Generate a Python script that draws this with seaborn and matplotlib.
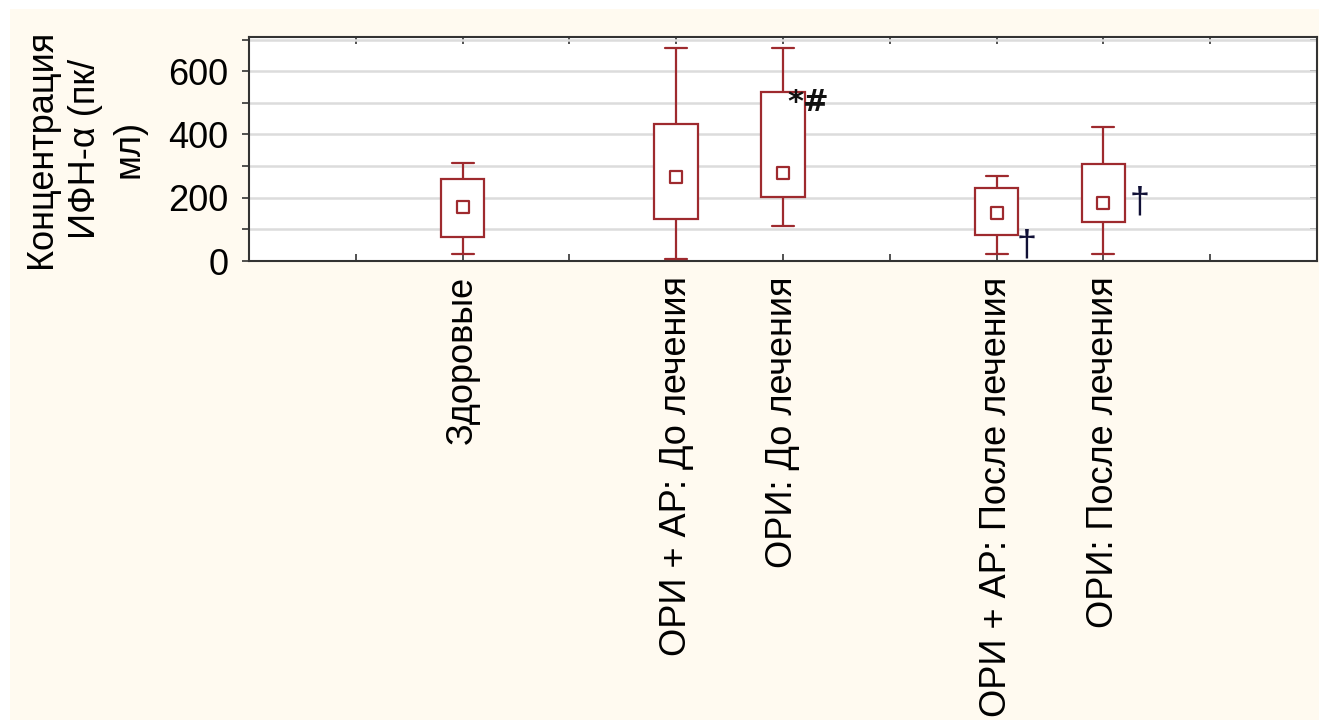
import numpy as np
import pandas as pd
import matplotlib
matplotlib.use("Agg")
import matplotlib.pyplot as plt
from matplotlib.patches import Rectangle
from matplotlib.ticker import FixedLocator
import seaborn as sns

# Group labels and their slots on the x axis
groups = ["Здоровые", "ОРИ + АР: До лечения", "ОРИ: До лечения",
          "ОРИ + АР: После лечения", "ОРИ: После лечения"]
positions = [2, 4, 5, 7, 8]

# Summary statistics of IFN-alpha concentration (pg/ml)
whisker_low = [22, 5, 110, 22, 22]
box_low = [77, 132, 203, 82, 122]
medians = [170, 266, 279, 153, 182]
box_high = [258, 434, 534, 232, 307]
whisker_high = [309, 673, 673, 270, 424]

# Significance marks placed next to boxes
mark_text = ["*#", "†", "†"]
mark_x = [5.24, 7.28, 8.34]
mark_y = [500, 48, 183]
mark_color = ["#111111", "#101036", "#101036"]
mark_size = [22, 26, 26]
mark_weight = ["bold", "normal", "normal"]
mark_family = ["DejaVu Sans", "Liberation Sans", "Liberation Sans"]

ylabel = "Концентрация\nИФН-α (пк/\nмл)"

# Five-number summaries as long-form records: with 5 sorted points the
# quartiles fall exactly on the 2nd and 4th values, whiskers span min..max.
records = []
for pos, lo, q1, med, q3, hi in zip(positions, whisker_low, box_low, medians,
                                    box_high, whisker_high):
    for v in (lo, q1, med, q3, hi):
        records.append({"pos": pos, "value": v})
df = pd.DataFrame(records)
med_df = pd.DataFrame({"pos": positions, "value": medians})

sns.set_style("white")
plt.rcParams["font.family"] = ["Liberation Sans", "DejaVu Sans"]
plt.rcParams["text.color"] = "black"
plt.rcParams["axes.labelcolor"] = "black"

line_col = "#9E2A2E"

fig = plt.figure(figsize=(13.19, 7.2), dpi=100, facecolor="white")
fig.patches.append(Rectangle((10 / 1319, 0), 1, (720 - 9) / 720,
                             transform=fig.transFigure, facecolor="#FFFAF0",
                             edgecolor="none", zorder=-10))
ax = fig.add_axes([249 / 1319, (720 - 261) / 720,
                   (1317 - 249) / 1319, (261 - 37) / 720])
ax.set_facecolor("white")

sns.boxplot(data=df, x="pos", y="value", native_scale=True, width=0.41,
            whis=np.inf, linecolor=line_col, linewidth=1.6, fill=True,
            color="white", showfliers=False,
            boxprops=dict(facecolor="white", edgecolor=line_col, zorder=3),
            whiskerprops=dict(color=line_col, zorder=3),
            capprops=dict(color=line_col, zorder=3),
            medianprops=dict(visible=False), ax=ax)

sns.scatterplot(data=med_df, x="pos", y="value", marker="s", s=80,
                facecolor="white", edgecolor=line_col, linewidth=1.6,
                zorder=4, ax=ax, legend=False)

for t, x, y, c, fs, fw, ff in zip(mark_text, mark_x, mark_y, mark_color,
                                  mark_size, mark_weight, mark_family):
    ax.text(x, y, t, ha="center", va="center", fontsize=fs, color=c,
            fontweight=fw, family=[ff, "DejaVu Sans"], zorder=5)

ax.set_xlim(0, 10)
ax.set_ylim(0, 708)

# Grid at every 100
ax.yaxis.set_major_locator(FixedLocator([0, 200, 400, 600]))
ax.yaxis.set_minor_locator(FixedLocator([100, 300, 500, 700]))
ax.grid(False)
for gy in range(100, 701, 100):
    ax.axhline(gy, color="#DCDCDC", linewidth=1.8, zorder=1)

ax.xaxis.set_major_locator(FixedLocator(list(range(1, 10))))
xt_labels = []
for k in range(1, 10):
    xt_labels.append(groups[positions.index(k)] if k in positions else "")
ax.set_xticklabels(xt_labels, rotation=90, va="top", ha="center")

ax.tick_params(axis="x", which="major", direction="in", length=5, width=1.2,
               top=True, bottom=True, pad=11, labelsize=26, colors="#333333",
               labelcolor="black")
ax.tick_params(axis="y", which="both", direction="out", length=5, width=1.2,
               left=True, right=False, colors="#333333")
ax.tick_params(axis="y", which="major", pad=10, labelsize=26, labelcolor="black")

# Inward ticks on the right side
ax_r = ax.secondary_yaxis("right")
ax_r.set_yticks(list(range(100, 701, 100)))
ax_r.tick_params(direction="in", length=5, width=1.2, colors="#333333",
                 labelright=False)
ax_r.spines["right"].set_visible(False)

for s in ax.spines.values():
    s.set_visible(True)
    s.set_color("#333333")
    s.set_linewidth(1.5)

ax.set_xlabel("")
ax.set_ylabel(ylabel, fontsize=26, linespacing=1.32, color="black")
ax.yaxis.set_label_coords(-0.096, 0.5)

fig.savefig("out.png", dpi=100, facecolor=fig.get_facecolor())
